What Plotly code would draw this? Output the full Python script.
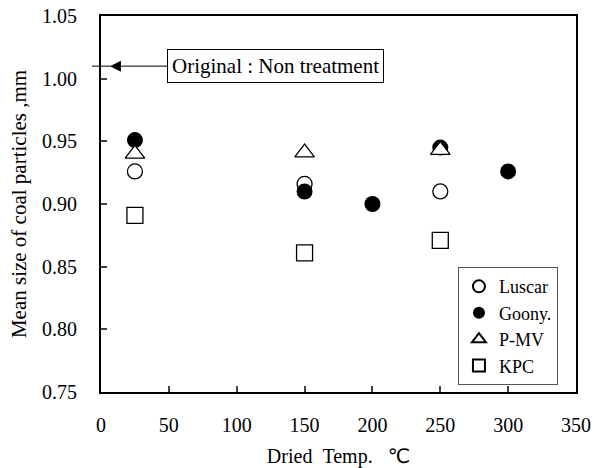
import plotly.graph_objects as go

# Data
luscar_x = [25, 150, 250]
luscar_y = [0.926, 0.916, 0.910]
goony_x = [25, 150, 200, 250, 300]
goony_y = [0.951, 0.910, 0.900, 0.945, 0.926]
pmv_x = [25, 150, 250]
pmv_y = [0.940, 0.941, 0.943]
kpc_x = [25, 150, 250]
kpc_y = [0.891, 0.861, 0.871]
original_y = 1.01

SERIF = "Liberation Serif, Times New Roman, serif"

fig = go.Figure()
fig.add_trace(go.Scatter(x=luscar_x, y=luscar_y, mode="markers", name="Luscar",
                         marker=dict(symbol="circle-open", size=15, color="black", line=dict(width=1.3))))
fig.add_trace(go.Scatter(x=goony_x, y=goony_y, mode="markers", name="Goony.",
                         marker=dict(symbol="circle", size=16, color="black")))
fig.add_trace(go.Scatter(x=pmv_x, y=pmv_y, mode="markers", name="P-MV",
                         marker=dict(symbol="triangle-up", size=17, color="white", line=dict(width=1.3, color="black"))))
fig.add_trace(go.Scatter(x=kpc_x, y=kpc_y, mode="markers", name="KPC",
                         marker=dict(symbol="square", size=16, color="white", line=dict(width=1.3, color="black"))))

fig.add_annotation(x=6.6, y=original_y, xref="x", yref="y",
                   text="Original : Non treatment", showarrow=True,
                   ax=166, ay=0, arrowhead=2, arrowsize=2.2, arrowwidth=1, arrowcolor="black",
                   font=dict(family=SERIF, size=21, color="black"),
                   bordercolor="black", borderwidth=1, borderpad=4, bgcolor="white")
# short tick-like mark crossing the axis at the original value
fig.add_shape(type="line", xref="paper", yref="y", x0=-0.019, x1=0.02, y0=original_y, y1=original_y,
              line=dict(color="black", width=1))

fig.update_layout(
    width=594, height=468,
    margin=dict(l=101, r=18, t=16, b=76),
    paper_bgcolor="white", plot_bgcolor="white",
    font=dict(family=SERIF, size=18, color="black"),
    showlegend=True,
    legend=dict(x=0.962, y=0.332, xanchor="right", yanchor="top",
                bordercolor="#555", borderwidth=1, bgcolor="white",
                font=dict(family=SERIF, size=18, color="black"),
                itemsizing="constant", itemwidth=30),
    xaxis=dict(range=[0, 350], dtick=50, tick0=0, ticks="inside", ticklen=6, tickwidth=1.5,
               showline=True, linecolor="black", linewidth=2, mirror=True, automargin=False,
               showgrid=False, zeroline=False, ticklabelstandoff=14,
               tickfont=dict(family=SERIF, size=20),
               title=dict(text="\u00a0\u00a0\u00a0\u00a0\u00a0\u00a0Dried\u00a0\u00a0Temp.\u00a0\u00a0\u00a0<span style='font-family:DejaVu Sans'>\u2103</span>",
                          font=dict(family=SERIF, size=20), standoff=14)),
    yaxis=dict(range=[0.75, 1.05], dtick=0.05, tick0=0.75, tickformat=".2f",
               ticks="inside", ticklen=6, tickwidth=1.5,
               showline=True, linecolor="black", linewidth=2, mirror=True, automargin=False,
               showgrid=False, zeroline=False, ticklabelstandoff=18,
               tickfont=dict(family=SERIF, size=20),
               title=dict(text="Mean size of coal particles ,mm",
                          font=dict(family=SERIF, size=21), standoff=10)),
)

fig.write_html("out.html")
